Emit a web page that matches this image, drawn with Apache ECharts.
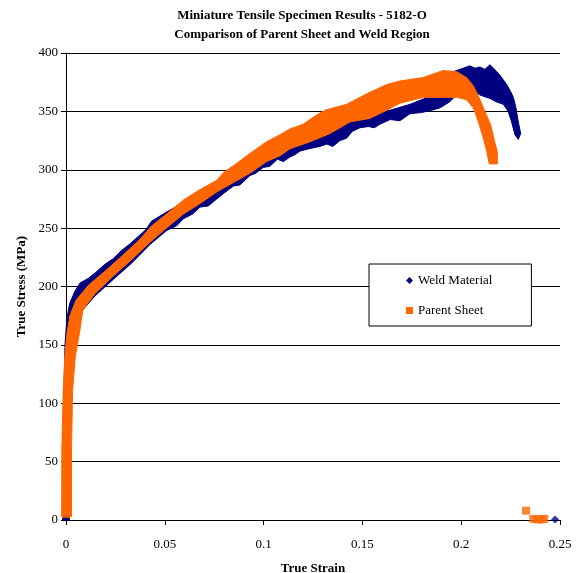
<!DOCTYPE html>
<html>
<head>
<meta charset="utf-8">
<title>Miniature Tensile Specimen Results - 5182-O</title>
<script src="https://cdn.jsdelivr.net/npm/echarts@6/dist/echarts.min.js"></script>
<style>
  html, body { margin: 0; padding: 0; background: #fff; }
  #chart { width: 579px; height: 573px; }
</style>
</head>
<body>
<div id="chart"></div>
<script>
// Axis ticks
const strainTicks = [0, 0.05, 0.1, 0.15, 0.2, 0.25];
const stressTicks = [0, 50, 100, 150, 200, 250, 300, 350, 400];

// Serrated flow bands: outer (upper/left) and inner (lower/right) edges, [true strain, true stress MPa]
const weldUpper = [
  [-0.0017, 0], [-0.0017, 40], [-0.0012, 100], [-0.0005, 150], [0.0003, 170], [0.0012, 180],
  [0.0020, 186], [0.0045, 196], [0.0071, 203], [0.0113, 207], [0.0150, 212], [0.0197, 219],
  [0.0240, 224], [0.0282, 231], [0.0320, 236], [0.0366, 243], [0.0400, 248], [0.0434, 256],
  [0.0501, 263], [0.0594, 272], [0.0763, 286], [0.0931, 303], [0.1083, 316], [0.1235, 328],
  [0.1437, 344], [0.1640, 351], [0.1741, 356], [0.1858, 364], [0.1908, 373], [0.1959, 384],
  [0.2010, 387], [0.2044, 389], [0.2070, 387], [0.2095, 388], [0.2120, 386], [0.2146, 390],
  [0.2163, 387], [0.2196, 381], [0.2230, 373], [0.2250, 367], [0.2264, 362], [0.2277, 353],
  [0.2289, 341], [0.2301, 331], [0.2289, 326]
];
const weldLower = [
  [0.0017, 0], [0.0017, 40], [0.0022, 100], [0.0032, 140], [0.0050, 160], [0.0085, 180],
  [0.0147, 192], [0.0239, 206], [0.0332, 220], [0.0425, 236], [0.0510, 248], [0.0560, 252],
  [0.0594, 258], [0.0640, 262], [0.0678, 268], [0.0720, 269], [0.0763, 275], [0.0800, 280],
  [0.0847, 286], [0.0880, 287], [0.0931, 295], [0.0960, 297], [0.0998, 302], [0.1032, 303],
  [0.1070, 309], [0.1100, 307], [0.1134, 311], [0.1160, 313], [0.1184, 316], [0.1230, 318],
  [0.1285, 320], [0.1320, 322], [0.1350, 320], [0.1387, 325], [0.1420, 327], [0.1450, 333],
  [0.1488, 336], [0.1530, 337], [0.1560, 336], [0.1589, 339], [0.1640, 343], [0.1690, 342],
  [0.1741, 348], [0.1800, 349], [0.1850, 351], [0.1893, 353], [0.1940, 358], [0.1977, 364],
  [0.2010, 366], [0.2044, 370], [0.2095, 364], [0.2146, 361], [0.2180, 358], [0.2213, 356],
  [0.2238, 350], [0.2255, 341], [0.2272, 330]
];
const parentUpper = [
  [-0.0022, 3], [-0.0021, 60], [-0.0014, 110], [-0.0006, 140], [0.0005, 160], [0.0020, 175],
  [0.0050, 188], [0.0113, 201], [0.0197, 213], [0.0282, 226], [0.0366, 239], [0.0434, 252],
  [0.0501, 261], [0.0594, 274], [0.0678, 283], [0.0763, 291], [0.0800, 298], [0.0860, 305],
  [0.0931, 314], [0.1015, 324], [0.1083, 330], [0.1134, 335], [0.1200, 339], [0.1260, 346],
  [0.1310, 351], [0.1420, 356], [0.1521, 365], [0.1623, 373], [0.1690, 376], [0.1808, 379],
  [0.1908, 385], [0.1977, 384], [0.2027, 379], [0.2061, 372], [0.2090, 362], [0.2115, 352],
  [0.2150, 338], [0.2168, 325], [0.2183, 315], [0.2183, 305]
];
const parentLower = [
  [0.0028, 3], [0.0028, 60], [0.0033, 110], [0.0047, 140], [0.0068, 160], [0.0085, 180],
  [0.0147, 194], [0.0239, 209], [0.0332, 223], [0.0425, 238], [0.0501, 249], [0.0594, 262],
  [0.0678, 271], [0.0763, 281], [0.0847, 289], [0.0931, 297], [0.1015, 307], [0.1083, 312],
  [0.1134, 318], [0.1235, 324], [0.1336, 331], [0.1437, 341], [0.1538, 344], [0.1623, 351],
  [0.1690, 357], [0.1808, 362], [0.1977, 362], [0.2027, 360], [0.2061, 353], [0.2087, 341],
  [0.2112, 327], [0.2129, 316], [0.2142, 305]
];

// Individual readings at the start of the test and after fracture
const weldPoints = [[0, 2], [0.2475, 0.5]];
const parentPoints = [[0, 5], [0.2328, 8], [0.2365, 1], [0.2385, 0.5], [0.2405, 0.5], [0.2420, 1]];

const NAVY = '#000080';
const ORANGE = '#FF6600';
const SERIF = '"Liberation Serif", "Times New Roman", serif';

function band(name, color, upper, lower) {
  const ring = upper.concat(lower.slice().reverse());
  return {
    type: 'custom',
    name: name,
    coordinateSystem: 'cartesian2d',
    data: ring,
    encode: { x: 0, y: 1 },
    itemStyle: { color: color },
    silent: true,
    renderItem: function (params, api) {
      if (params.dataIndex !== 0) return null;
      const pts = ring.map(function (p) { return api.coord(p); });
      return {
        type: 'polygon',
        shape: { points: pts },
        style: { fill: color, stroke: color, lineWidth: 1, lineJoin: 'miter' }
      };
    }
  };
}

function points(name, color, symbol, data) {
  return {
    type: 'scatter',
    name: name,
    data: data,
    symbol: symbol,
    symbolSize: 8,
    itemStyle: { color: color },
    silent: true
  };
}

const chart = echarts.init(document.getElementById('chart'), null, { renderer: 'canvas' });
chart.setOption({
  animation: false,
  backgroundColor: '#fff',
  graphic: [{
    type: 'text',
    x: 302,
    y: 6,
    style: {
      text: 'Miniature Tensile Specimen Results - 5182-O\nComparison of Parent Sheet and Weld Region',
      font: 'bold 13px ' + SERIF,
      fill: '#000',
      align: 'center',
      verticalAlign: 'top',
      lineHeight: 19
    }
  }],
  grid: { left: 66, right: 19, top: 53, bottom: 53, containLabel: false, outerBoundsMode: 'none' },
  legend: {
    orient: 'vertical',
    left: 369,
    top: 264,
    padding: [10, 39, 9, 37],
    itemGap: 17,
    itemWidth: 7,
    itemHeight: 7,
    backgroundColor: '#fff',
    borderColor: '#000',
    borderWidth: 1,
    selectedMode: false,
    textStyle: { fontFamily: SERIF, fontSize: 13, color: '#000' },
    data: [
      { name: 'Weld Material', icon: 'diamond' },
      { name: 'Parent Sheet', icon: 'rect' }
    ]
  },
  xAxis: {
    type: 'value',
    min: strainTicks[0],
    max: strainTicks[strainTicks.length - 1],
    interval: 0.05,
    name: 'True Strain',
    nameLocation: 'middle',
    nameGap: 42,
    nameTextStyle: { fontFamily: SERIF, fontSize: 13, fontWeight: 'bold', color: '#000' },
    axisLine: { lineStyle: { color: '#000', width: 1 } },
    axisTick: { show: true, length: 5, lineStyle: { color: '#000' } },
    axisLabel: {
      fontFamily: SERIF, fontSize: 13, color: '#000', margin: 18,
      formatter: function (v) { return String(+v.toFixed(2)); }
    },
    splitLine: { show: false }
  },
  yAxis: {
    type: 'value',
    min: stressTicks[0],
    max: stressTicks[stressTicks.length - 1],
    interval: 50,
    name: 'True Stress (MPa)',
    nameLocation: 'middle',
    nameGap: 38,
    nameMoveOverlap: false,
    nameTextStyle: { fontFamily: SERIF, fontSize: 13, fontWeight: 'bold', color: '#000' },
    axisLine: { show: true, lineStyle: { color: '#000', width: 1 } },
    axisTick: { show: true, length: 5, lineStyle: { color: '#000' } },
    axisLabel: { fontFamily: SERIF, fontSize: 13, color: '#000', margin: 8 },
    splitLine: { show: true, lineStyle: { color: '#000', width: 1 } }
  },
  series: [
    band('Weld Material', NAVY, weldUpper, weldLower),
    points('Weld Material', NAVY, 'diamond', weldPoints),
    band('Parent Sheet', ORANGE, parentUpper, parentLower),
    points('Parent Sheet', ORANGE, 'rect', parentPoints)
  ]
});
</script>
</body>
</html>
